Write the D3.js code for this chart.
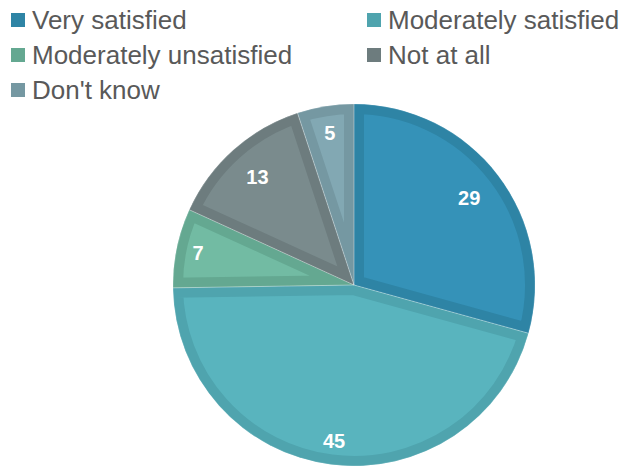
<!DOCTYPE html>
<html>
<head>
<meta charset="utf-8">
<script src="https://cdn.jsdelivr.net/npm/d3@7"></script>
<style>
  html, body { margin: 0; padding: 0; background: #ffffff; }
  svg { display: block; }
</style>
</head>
<body>
<svg id="chart" width="625" height="466"></svg>
<script>
// Survey answers and their shares
const categories = ["Very satisfied", "Moderately satisfied", "Moderately unsatisfied", "Not at all", "Don't know"];
const values = [29, 45, 7, 13, 5];

// Slice fill and its darker rim
const fills   = ["#3592b8", "#59b4be", "#72bba3", "#7a8b8d", "#82a8b3"];
const borders = ["#2e84a5", "#4fa4ae", "#64a891", "#6d7c7e", "#7598a2"];

const svg = d3.select("#chart");
const cx = 354, cy = 285, R = 181;
const rim = 10;
// Distance of each value label from the centre, as a fraction of the radius
const labelFrac = [0.80, 0.87, 0.88, 0.80, 0.85];

const pie = d3.pie().sort(null).value(d => d).startAngle(0).endAngle(2 * Math.PI);
const arcs = pie(values);
const arc = d3.arc().innerRadius(0).outerRadius(R);

const g = svg.append("g").attr("transform", `translate(${cx},${cy})`);
const defs = svg.append("defs");

arcs.forEach((a, i) => {
  defs.append("clipPath").attr("id", "clip" + i)
    .append("path").attr("d", arc(a));
});

// each slice: light fill with a darker rim drawn just inside its outline
g.selectAll("path.slice")
  .data(arcs)
  .join("path")
  .attr("class", "slice")
  .attr("d", arc)
  .attr("fill", (d, i) => fills[i])
  .attr("stroke", (d, i) => borders[i])
  .attr("stroke-width", rim * 2)
  .attr("stroke-linejoin", "miter")
  .attr("clip-path", (d, i) => `url(#clip${i})`);

// thin separators between slices
g.selectAll("path.sep")
  .data(arcs)
  .join("path")
  .attr("class", "sep")
  .attr("d", arc)
  .attr("fill", "none")
  .attr("stroke", "#ffffff")
  .attr("stroke-opacity", 0.35)
  .attr("stroke-width", 0.6);

g.selectAll("text.val")
  .data(arcs)
  .join("text")
  .attr("class", "val")
  .attr("transform", (d, i) => {
    const m = (d.startAngle + d.endAngle) / 2;
    const r = R * labelFrac[i];
    return `translate(${r * Math.sin(m)},${-r * Math.cos(m)})`;
  })
  .attr("text-anchor", "middle")
  .attr("dy", "0.36em")
  .attr("fill", "#ffffff")
  .attr("font-family", "Liberation Sans, Arial, sans-serif")
  .attr("font-weight", "bold")
  .attr("font-size", 20)
  .text(d => d.data);

// Legend: two columns, three rows
const legendX = [11, 367];
const legendY = [29, 64, 99];
const lg = svg.append("g");
categories.forEach((c, i) => {
  const x = legendX[i % 2], y = legendY[Math.floor(i / 2)];
  lg.append("rect").attr("x", x).attr("y", y - 16).attr("width", 14).attr("height", 14)
    .attr("fill", borders[i]);
  lg.append("text").attr("x", x + 21).attr("y", y)
    .attr("font-family", "Liberation Sans, Arial, sans-serif")
    .attr("font-size", 26)
    .attr("fill", "#595959")
    .text(c);
});
</script>
</body>
</html>
